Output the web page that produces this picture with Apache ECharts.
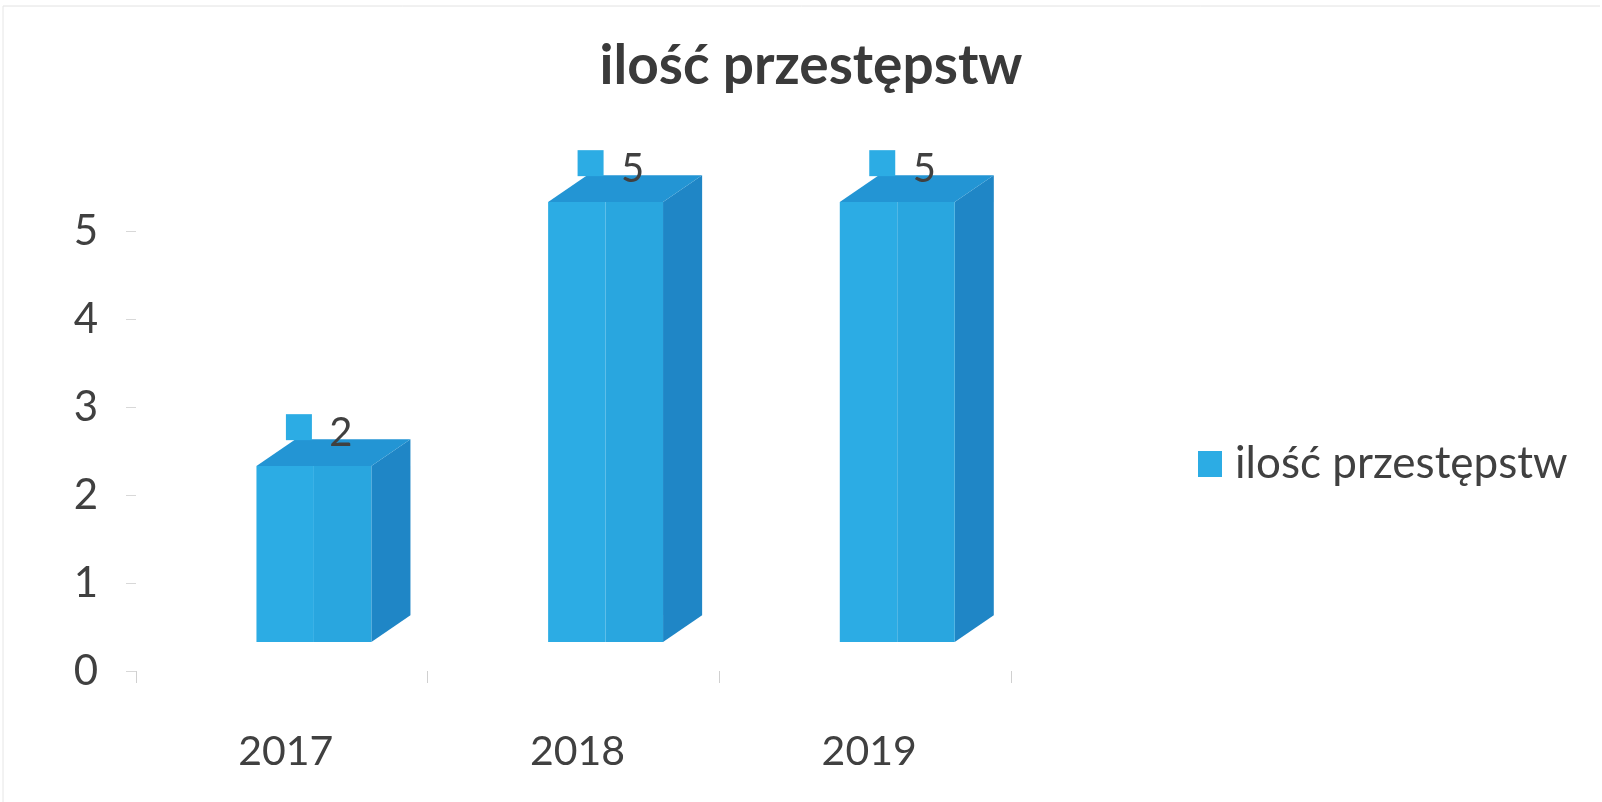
<!DOCTYPE html>
<html>
<head>
<meta charset="utf-8">
<script src="https://cdn.jsdelivr.net/npm/echarts@6/dist/echarts.min.js"></script>
<style>
html,body{margin:0;padding:0;background:#fff;}
#chart{width:1602px;height:802px;}
</style>
</head>
<body>
<div id="chart"></div>
<script>
const titleText = 'ilość przestępstw';
const seriesName = 'ilość przestępstw';
const categories = ['2017', '2018', '2019'];
const values = [2, 5, 5];
const yTicks = [0, 1, 2, 3, 4, 5];

const FONT = 'Lato, "Open Sans", sans-serif';
const FRONT = '#2cace4';
const FRONT2 = '#29a6df';
const SIDE = '#1f86c6';
const TOP = '#2395d4';

const chart = echarts.init(document.getElementById('chart'));

function renderItem(params, api) {
  const cat = api.value(0), v = api.value(1);
  const top = api.coord([cat, v]);
  const base = api.coord([cat, 0]);
  const band = api.size([1, 0])[0];
  const w = band * 0.394, off = band * 0.11;
  const dx = band * 0.134, dy = -band * 0.092;
  const lift = 29;
  const cx = top[0] + off;
  const xl = cx - w / 2, xr = cx + w / 2;
  const yt = top[1] - lift, yb = base[1] - lift;
  return {
    type: 'group',
    children: [
      { type: 'polygon', shape: { points: [[xr, yb], [xr + dx, yb + dy], [xr + dx, yt + dy], [xr, yt]] }, style: { fill: SIDE } },
      { type: 'polygon', shape: { points: [[xl, yt], [xl + dx, yt + dy], [xr + dx, yt + dy], [xr, yt]] }, style: { fill: TOP } },
      { type: 'rect', shape: { x: xl, y: yt, width: w / 2, height: yb - yt }, style: { fill: FRONT } },
      { type: 'rect', shape: { x: cx, y: yt, width: w / 2, height: yb - yt }, style: { fill: FRONT2 } },
      { type: 'rect', shape: { x: cx - 28, y: yt + dy - 25, width: 26, height: 26 }, style: { fill: FRONT } },
      { type: 'text', x: cx + 27, y: yt + dy - 6, style: { text: String(v), font: '40px ' + FONT, fill: '#404040', align: 'center', verticalAlign: 'middle' } }
    ]
  };
}

chart.setOption({
  backgroundColor: '#ffffff',
  animation: false,
  title: {
    text: titleText,
    left: 806, top: 34,
    textAlign: 'center',
    textStyle: { fontFamily: FONT, fontWeight: 'bold', fontSize: 55, color: '#3a3a3a' }
  },
  legend: {
    data: [{ name: seriesName, icon: 'rect' }],
    left: 1193, top: 437,
    itemWidth: 24, itemHeight: 26,
    textStyle: { fontFamily: FONT, fontSize: 44, color: '#404040', padding: [0, 0, 0, 8] }
  },
  grid: { left: 136, right: 591, top: 231, bottom: 131, containLabel: false },
  xAxis: {
    type: 'category',
    data: categories,
    axisLine: { show: false },
    axisTick: { show: true, length: 12, lineStyle: { color: '#d0d0d0' } },
    axisLabel: { margin: 60, fontFamily: FONT, fontSize: 41, color: '#404040', padding: [0, 0, 0, 8] }
  },
  yAxis: {
    type: 'value',
    min: 0, max: 5, interval: 1,
    splitLine: { show: false },
    axisLine: { show: false },
    axisTick: { show: true, length: 10, lineStyle: { color: '#d8d8d8' } },
    axisLabel: { margin: 38, fontFamily: FONT, fontSize: 42, color: '#404040',
      formatter: function (val) { return yTicks.indexOf(val) >= 0 ? String(val) : ''; } }
  },
  graphic: [
    { type: 'line', shape: { x1: 3, y1: 6, x2: 1600, y2: 6 }, style: { stroke: '#e2e2e2', lineWidth: 1 } },
    { type: 'line', shape: { x1: 3, y1: 6, x2: 3, y2: 802 }, style: { stroke: '#e6e6e6', lineWidth: 1 } }
  ],
  series: [{
    name: seriesName,
    type: 'custom',
    renderItem: renderItem,
    itemStyle: { color: FRONT },
    encode: { x: 0, y: 1 },
    data: categories.map((c, i) => [i, values[i]])
  }]
});
</script>
</body>
</html>
